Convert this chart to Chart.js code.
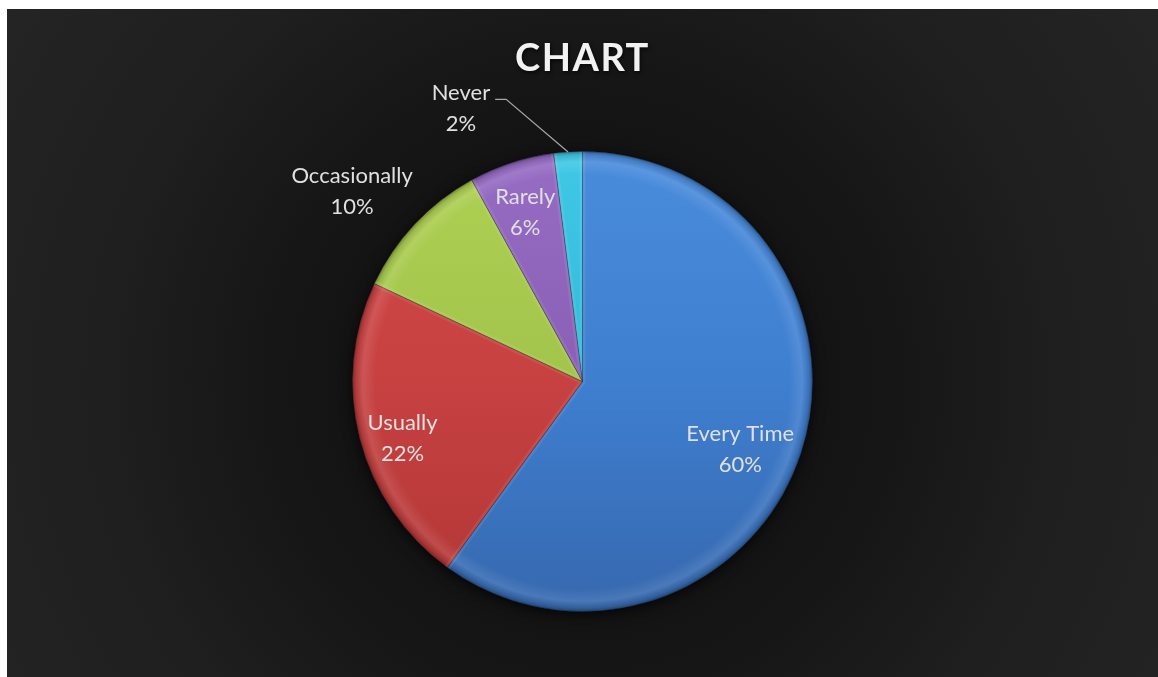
<!DOCTYPE html>
<html>
<head>
<meta charset="utf-8">
<script src="https://cdn.jsdelivr.net/npm/chart.js@4.4.1/dist/chart.umd.min.js"></script>
<style>
  html, body { margin: 0; padding: 0; background: #ffffff; width: 1158px; height: 677px; overflow: hidden; }
  #c { position: absolute; left: 7px; top: 9px; }
</style>
</head>
<body>
<canvas id="c" width="1151" height="668"></canvas>
<script>
// ---- data ----
const chartTitle = "CHART";
const categories = ["Every Time", "Usually", "Occasionally", "Rarely", "Never"];
const values = [60, 22, 10, 6, 2];
const baseColors = ["#3f7fd0", "#c74141", "#a2c44b", "#8a60b6", "#33bad8"];
const lightColors = ["#4a8cdc", "#d44a4a", "#aed052", "#966cc4", "#3fc8e6"];
const darkColors = ["#3668ae", "#b23636", "#8fae3f", "#7852a2", "#2aa2c0"];

// label placement (radius factor, angle adjustment in degrees)
const labelPlacement = [
  { f: 0.745, da: 5 },
  { f: 0.82, da: -3 },
  { f: 1.3, da: -3.6 },
  { f: 0.78, da: -0.6 },
  { f: 1.3, da: -20.4, leader: true }
];

const bgPlugin = {
  id: 'bg',
  beforeDraw(chart) {
    const ctx = chart.ctx;
    const w = chart.width, h = chart.height;
    const ca = chart.chartArea;
    const cx = (ca.left + ca.right) / 2, cy = (ca.top + ca.bottom) / 2;
    const g = ctx.createRadialGradient(cx, cy, 0, cx, cy, 690);
    g.addColorStop(0, '#0f0f0f');
    g.addColorStop(230 / 690, '#131313');
    g.addColorStop(330 / 690, '#171717');
    g.addColorStop(480 / 690, '#1f1f1f');
    g.addColorStop(1, '#242424');
    ctx.save();
    ctx.fillStyle = g;
    ctx.fillRect(0, 0, w, h);
    ctx.restore();
  },
  beforeDatasetsDraw(chart) {
    const meta = chart.getDatasetMeta(0);
    const a = meta.data[0];
    if (!a) return;
    const ctx = chart.ctx;
    ctx.save();
    ctx.shadowColor = 'rgba(0,0,0,0.85)';
    ctx.shadowBlur = 14;
    ctx.shadowOffsetY = 3;
    ctx.fillStyle = '#000';
    ctx.beginPath();
    ctx.arc(a.x, a.y, a.outerRadius - 1, 0, Math.PI * 2);
    ctx.fill();
    ctx.restore();
  },
  afterDatasetsDraw(chart) {
    const meta = chart.getDatasetMeta(0);
    const ctx = chart.ctx;
    meta.data.forEach((arc) => {
      const { x, y, startAngle, endAngle, outerRadius } = arc;
      ctx.save();
      ctx.beginPath();
      ctx.moveTo(x, y);
      ctx.arc(x, y, outerRadius, startAngle, endAngle);
      ctx.closePath();
      ctx.clip();
      const g = ctx.createRadialGradient(x, y, 0, x, y, outerRadius);
      g.addColorStop(0, 'rgba(255,255,255,0)');
      g.addColorStop(0.9, 'rgba(255,255,255,0)');
      g.addColorStop(0.955, 'rgba(255,255,255,0.10)');
      g.addColorStop(0.985, 'rgba(0,0,0,0.10)');
      g.addColorStop(1, 'rgba(0,0,0,0.35)');
      ctx.fillStyle = g;
      ctx.fillRect(x - outerRadius, y - outerRadius, outerRadius * 2, outerRadius * 2);
      // light bevel along the radial edges
      ctx.lineWidth = 6;
      ctx.strokeStyle = 'rgba(255,255,255,0.08)';
      ctx.beginPath();
      ctx.moveTo(x + Math.cos(startAngle) * outerRadius, y + Math.sin(startAngle) * outerRadius);
      ctx.lineTo(x, y);
      ctx.lineTo(x + Math.cos(endAngle) * outerRadius, y + Math.sin(endAngle) * outerRadius);
      ctx.stroke();
      ctx.restore();
    });
  },
  afterDraw(chart) {
    const ctx = chart.ctx;
    const meta = chart.getDatasetMeta(0);
    const ds = chart.data.datasets[0].data;
    const total = ds.reduce((s, v) => s + v, 0);
    // title
    const ca = chart.chartArea;
    const cx = (ca.left + ca.right) / 2;
    ctx.save();
    ctx.font = 'bold 38px Lato';
    if ('letterSpacing' in ctx) ctx.letterSpacing = '1.5px';
    ctx.textAlign = 'center';
    ctx.textBaseline = 'alphabetic';
    ctx.shadowColor = 'rgba(0,0,0,0.7)';
    ctx.shadowBlur = 4;
    ctx.shadowOffsetX = 1;
    ctx.shadowOffsetY = 2;
    ctx.fillStyle = '#f2f2f2';
    ctx.fillText(chartTitle, cx, 62);
    ctx.restore();

    meta.data.forEach((arc, i) => {
      const { x, y, startAngle, endAngle, outerRadius } = arc;
      const p = labelPlacement[i];
      const mid = (startAngle + endAngle) / 2;
      const ang = mid + p.da * Math.PI / 180;
      const lx = x + Math.cos(ang) * outerRadius * p.f;
      const ly = y + Math.sin(ang) * outerRadius * p.f;
      const pct = Math.round(ds[i] / total * 100) + '%';
      ctx.save();
      ctx.font = '22px Lato';
      ctx.textAlign = 'center';
      ctx.textBaseline = 'middle';
      ctx.fillStyle = '#e0e0e0';
      ctx.fillText(chart.data.labels[i], lx, ly - 15);
      ctx.fillText(pct, lx, ly + 16);
      if (p.leader) {
        const tw = ctx.measureText(chart.data.labels[i]).width;
        const ex = lx + tw / 2 + 5;
        const ey = ly - 15 + 6;
        const px = x + Math.cos(mid) * outerRadius;
        const py = y + Math.sin(mid) * outerRadius;
        ctx.strokeStyle = '#a6a6a6';
        ctx.lineWidth = 1.2;
        ctx.beginPath();
        ctx.moveTo(ex, ey);
        ctx.lineTo(ex + 11, ey);
        ctx.lineTo(px, py);
        ctx.stroke();
      }
      ctx.restore();
    });
  }
};

new Chart(document.getElementById('c'), {
  type: 'pie',
  data: {
    labels: categories,
    datasets: [{
      data: values,
      backgroundColor: (ctx) => {
        const chart = ctx.chart;
        const ca = chart.chartArea;
        const i = ctx.dataIndex;
        if (!ca) return baseColors[i];
        const g = chart.ctx.createLinearGradient(0, ca.top, 0, ca.bottom);
        g.addColorStop(0, lightColors[i]);
        g.addColorStop(0.5, baseColors[i]);
        g.addColorStop(1, darkColors[i]);
        return g;
      },
      borderColor: 'rgba(20,20,20,0.3)',
      borderWidth: 1
    }]
  },
  options: {
    responsive: false,
    devicePixelRatio: 1,
    animation: false,
    layout: { padding: { top: 142, bottom: 65, left: 0, right: 0 } },
    plugins: {
      legend: { display: false },
      tooltip: { enabled: false },
      title: { display: false }
    },
    events: []
  },
  plugins: [bgPlugin]
});
</script>
</body>
</html>
